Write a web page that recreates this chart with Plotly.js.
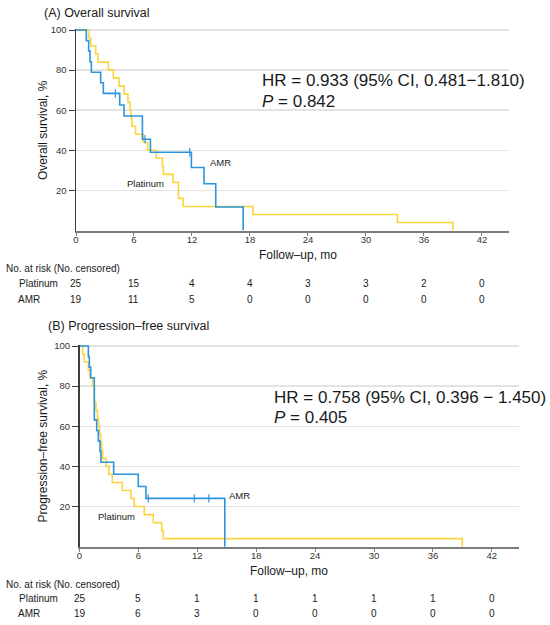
<!DOCTYPE html>
<html>
<head>
<meta charset="utf-8">
<script src="https://cdn.plot.ly/plotly-3.0.1.min.js"></script>
<style>html,body{margin:0;padding:0;background:#fff;}#chart{width:550px;height:625px;}</style>
</head>
<body>
<div id="chart"></div>
<script>
// ---------- Data ----------
const monthTicks = [0, 6, 12, 18, 24, 30, 36, 42];
const survTicks = [20, 40, 60, 80, 100];

// (A) Overall survival
const osPlatinumTime = [0, 1.35, 1.52, 2.04, 2.28, 3.35, 3.86, 4.45, 4.97, 5.38, 5.59, 5.69, 5.78, 6.16, 6.95, 7.4, 8.3, 8.94, 9.04, 10.04, 10.6, 11.08, 18.3, 33.26, 39.0];
const osPlatinumSurv = [100, 96, 92, 88, 84, 80, 76, 72, 68, 64, 60, 56, 52, 48, 44, 40, 36, 32, 28, 24, 16, 12, 8, 4, 0];
const osAmrTime = [0, 1.07, 1.31, 1.45, 1.59, 2.55, 2.83, 4.52, 4.97, 6.87, 7.7, 11.94, 13.25, 14.46, 17.3];
const osAmrSurv = [100, 94.7, 89.5, 84.2, 78.9, 73.7, 68.4, 62.6, 57.1, 45.5, 39.0, 31.4, 23.3, 11.7, 0];
const osAmrCensorTime = [4.07, 7.14, 11.77];
const osAmrCensorSurv = [68.4, 45.5, 39.0];
const osRiskPlatinum = [25, 15, 4, 4, 3, 3, 2, 0];
const osRiskAmr = [19, 11, 5, 0, 0, 0, 0, 0];
const osHR = "HR = 0.933 (95% CI, 0.481\u22121.810)";
const osP = "<i>P</i> = 0.842";

// (B) Progression-free survival
const pfsPlatinumTime = [0, 0.32, 0.49, 0.9, 1.07, 1.34, 1.51, 1.68, 1.82, 1.95, 2.05, 2.16, 2.26, 2.36, 2.7, 3.0, 3.34, 4.36, 5.24, 5.58, 6.6, 7.52, 8.37, 8.54, 39.0];
const pfsPlatinumSurv = [100, 96, 92, 88, 84, 80, 72, 68, 64, 60, 56, 52, 48, 44, 40, 36, 32, 28, 24, 20, 16, 12, 8, 4, 0];
const pfsAmrTime = [0, 0.9, 1.0, 1.14, 1.51, 1.75, 1.92, 2.09, 2.19, 3.48, 5.99, 6.77, 14.8];
const pfsAmrSurv = [100, 94.7, 89.5, 84.2, 63.2, 57.9, 52.6, 47.4, 42.1, 36.1, 30.0, 24.1, 0];
const pfsAmrCensorTime = [7.0, 11.69, 13.18];
const pfsAmrCensorSurv = [24.1, 24.1, 24.1];
const pfsRiskPlatinum = [25, 5, 1, 1, 1, 1, 1, 0];
const pfsRiskAmr = [19, 6, 3, 0, 0, 0, 0, 0];
const pfsHR = "HR = 0.758 (95% CI, 0.396 \u2212 1.450)";
const pfsP = "<i>P</i> = 0.405";

const groupNames = ["Platinum", "AMR"];

// ---------- Styling ----------
const W = 550, H = 625;
const px = x => x / W;
const py = y => 1 - y / H;
const YELLOW = "#FBD43F";
const BLUE = "#2A95DB";
const FONT = "Liberation Sans, Arial, Helvetica, sans-serif";
const TXT = "#1a1a1a";

function curve(x, y, color, xa, ya) {
  return {x: x, y: y, type: "scatter", mode: "lines", xaxis: xa, yaxis: ya,
    line: {color: color, width: 1.6, shape: "hv"}, hoverinfo: "skip"};
}
function censor(x, y, color, xa, ya) {
  return {x: x, y: y, type: "scatter", mode: "markers", xaxis: xa, yaxis: ya,
    marker: {symbol: "line-ns", size: 6, line: {color: color, width: 1.2}}, hoverinfo: "skip"};
}

const data = [
  curve(osPlatinumTime, osPlatinumSurv, YELLOW, "x", "y"),
  curve(osAmrTime, osAmrSurv, BLUE, "x", "y"),
  censor(osAmrCensorTime, osAmrCensorSurv, BLUE, "x", "y"),
  curve(pfsPlatinumTime, pfsPlatinumSurv, YELLOW, "x2", "y2"),
  curve(pfsAmrTime, pfsAmrSurv, BLUE, "x2", "y2"),
  censor(pfsAmrCensorTime, pfsAmrCensorSurv, BLUE, "x2", "y2")
];

function xAxis(domain, anchor) {
  return {domain: domain, anchor: anchor, range: [0, 44.8], tickvals: monthTicks,
    ticktext: monthTicks.map(String), showline: true, linecolor: "#7c7c7c", linewidth: 2,
    ticks: "outside", ticklen: 3, tickcolor: "#7c7c7c", tickwidth: 1, ticklabelstandoff: -4,
    showgrid: false, zeroline: false, tickfont: {family: FONT, size: 9.5, color: "#333"}, fixedrange: true};
}
function yAxis(domain, anchor) {
  return {domain: domain, anchor: anchor, range: [0, 100.6], tickvals: survTicks,
    ticktext: survTicks.map(String), showline: true, linecolor: "#3c3c3c", linewidth: 1.5,
    ticks: "outside", ticklen: 6, tickcolor: "#3c3c3c", tickwidth: 1,
    showgrid: true, gridcolor: "#e3e3e3", gridwidth: 1.5, zeroline: false,
    tickfont: {family: FONT, size: 9.5, color: "#333"}, fixedrange: true};
}

const ann = [];
function txt(text, x, y, size, opts) {
  ann.push(Object.assign({text: text, x: x, y: y, xref: "paper", yref: "paper",
    showarrow: false, xanchor: "left", yanchor: "middle", borderpad: 0,
    font: {family: FONT, size: size, color: TXT}}, opts || {}));
}

// Panel A texts
txt("(A) Overall survival", px(43), py(12.5), 12.5);
txt("Overall survival, %", px(43), py(130), 12, {textangle: -90, xanchor: "center"});
txt("Follow\u2013up, mo", px(297.5), py(255), 12, {xanchor: "center"});
txt(osHR, px(261), py(80.5), 17);
txt(osP, px(261), py(101.5), 17);
txt("No. at risk (No. censored)", px(5), py(268), 10);
txt(groupNames[0], px(17.5), py(283.5), 10);
txt(groupNames[1], px(17.5), py(299.5), 10);
monthTicks.forEach((m, i) => {
  txt(String(osRiskPlatinum[i]), m, py(283.5), 10, {xref: "x", xanchor: "center"});
  txt(String(osRiskAmr[i]), m, py(299.5), 10, {xref: "x", xanchor: "center"});
});
txt(groupNames[1], 14.9, 34, 9.5, {xref: "x", yref: "y", xanchor: "center"});
txt(groupNames[0], 7.14, 23.2, 9.5, {xref: "x", yref: "y", xanchor: "center"});

// Panel B texts
txt("(B) Progression\u2013free survival", px(46.5), py(326), 12.5);
txt("Progression\u2013free survival, %", px(42.5), py(446), 12, {textangle: -90, xanchor: "center"});
txt("Follow\u2013up, mo", px(288.5), py(571), 12, {xanchor: "center"});
txt(pfsHR, px(273.3), py(397), 17);
txt(pfsP, px(273.3), py(417.5), 17);
txt("No. at risk (No. censored)", px(5), py(584), 10);
txt(groupNames[0], px(17.5), py(598.5), 10);
txt(groupNames[1], px(17.5), py(613.5), 10);
monthTicks.forEach((m, i) => {
  txt(String(pfsRiskPlatinum[i]), m, py(598.5), 10, {xref: "x2", xanchor: "center"});
  txt(String(pfsRiskAmr[i]), m, py(613.5), 10, {xref: "x2", xanchor: "center"});
});
txt(groupNames[1], 16.34, 25.4, 9.5, {xref: "x2", yref: "y2", xanchor: "center"});
txt(groupNames[0], 3.72, 14.9, 9.5, {xref: "x2", yref: "y2", xanchor: "center"});

const layout = {
  width: W, height: H,
  margin: {l: 0, r: 0, t: 0, b: 0, pad: 0},
  paper_bgcolor: "#ffffff", plot_bgcolor: "#ffffff",
  showlegend: false,
  font: {family: FONT, color: TXT},
  xaxis: xAxis([px(76), px(509)], "y"),
  yaxis: yAxis([py(230.5), py(28.8)], "x"),
  xaxis2: xAxis([px(79.5), px(519.3)], "y2"),
  yaxis2: yAxis([py(546.7), py(344.8)], "x2"),
  annotations: ann
};

Plotly.newPlot("chart", data, layout, {displayModeBar: false, staticPlot: true});
</script>
</body>
</html>
